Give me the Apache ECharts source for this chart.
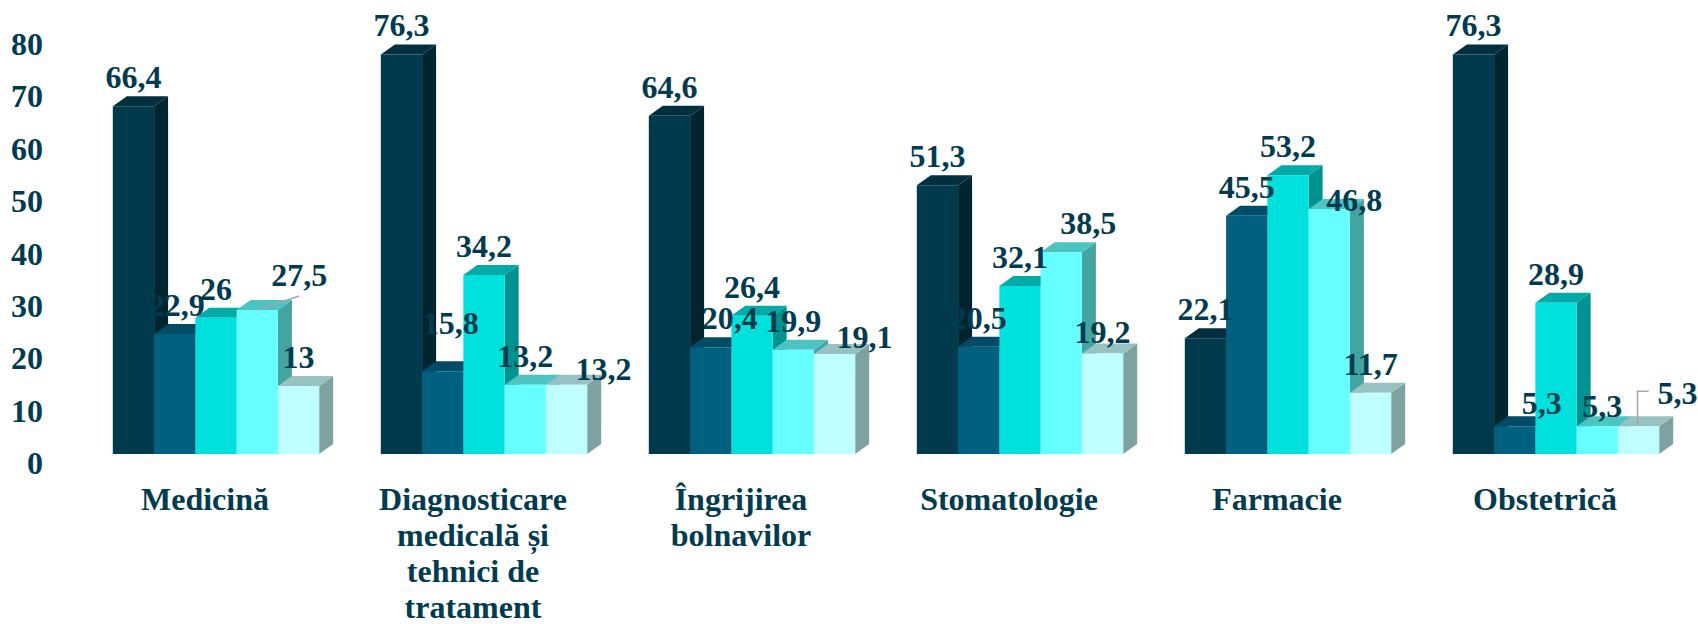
<!DOCTYPE html>
<html>
<head>
<meta charset="utf-8">
<script src="https://cdn.jsdelivr.net/npm/echarts@6/dist/echarts.min.js"></script>
<style>
html, body { margin: 0; padding: 0; background: #fff; }
#chart { width: 1698px; height: 624px; }
</style>
</head>
<body>
<div id="chart"></div>
<script>
const categories = ['Medicină', 'Diagnosticare\nmedicală și\ntehnici de\ntratament', 'Îngrijirea\nbolnavilor', 'Stomatologie', 'Farmacie', 'Obstetrică']
const serie1 = [66.4, 76.3, 64.6, 51.3, 22.1, 76.3]
const serie2 = [22.9, 15.8, 20.4, 20.5, 45.5, 5.3]
const serie3 = [26, 34.2, 26.4, 32.1, 53.2, 28.9]
const serie4 = [27.5, 13.2, 19.9, 38.5, 46.8, 5.3]
const serie5 = [13, 13.2, 19.1, 19.2, 11.7, 5.3]
const yTicks = [0, 80, 10]

const allSeries = [serie1, serie2, serie3, serie4, serie5]
const frontColors = ['#003a4c', '#006080', '#00e0dc', '#66ffff', '#bfffff']
const topColors = ['#00303f', '#004c66', '#00aaa6', '#4cc4c2', '#96c2c2']
const sideColors = ['#00252f', '#004a62', '#00928e', '#44a4a2', '#7ea2a2']
const textColor = '#003b4f'
const serif = '"Liberation Serif", "Times New Roman", serif'
const depthX = 14, depthY = 10
const groupRatio = 0.77

// manual nudges for labels that Excel moved away from the bar: "cat-serie": [dx, dy, leader]
const labelNudge = {
    '0-1': [2, 0], '0-3': [42, -6, 'slant'],
    '1-1': [8, -19], '1-4': [37, 13],
    '2-1': [19, 0], '2-4': [30, 12],
    '3-3': [27, 0], '3-4': [0, 8],
    '4-3': [25, 20],
    '5-1': [27, 6], '5-3': [5, 9], '5-4': [39, -4, 'elbow']
}

function barBox(api, k) {
    const cat = api.value(0)
    const base = api.coord([cat, 0])
    const top = api.coord([cat, api.value(1)])
    const band = api.size([1, 0])[0]
    const w = band * groupRatio / 5
    const x0 = base[0] - band * groupRatio / 2 + k * w
    return { x0: x0, w: w, y0: base[1], y1: top[1] }
}

function renderBar(k) {
    return function (params, api) {
        const b = barBox(api, k)
        const xr = b.x0 + b.w
        return {
            type: 'group',
            children: [
                { type: 'polygon', shape: { points: [[xr, b.y1], [xr + depthX, b.y1 - depthY], [xr + depthX, b.y0 - depthY], [xr, b.y0]] }, style: { fill: sideColors[k] } },
                { type: 'polygon', shape: { points: [[b.x0, b.y1], [b.x0 + depthX, b.y1 - depthY], [xr + depthX, b.y1 - depthY], [xr, b.y1]] }, style: { fill: topColors[k] } },
                { type: 'rect', shape: { x: b.x0, y: b.y1, width: b.w, height: b.y0 - b.y1 }, style: { fill: frontColors[k] } }
            ]
        }
    }
}

function renderLabel(k) {
    return function (params, api) {
        const b = barBox(api, k)
        const cx = b.x0 + b.w / 2
        const nudge = labelNudge[params.dataIndex + '-' + k] || [0, 0]
        const lx = cx + nudge[0]
        const ly = b.y1 - 29 + nudge[1]
        const children = [{
            type: 'text',
            style: {
                text: String(api.value(1)).replace('.', ','), x: lx, y: ly, align: 'center', verticalAlign: 'middle',
                fontFamily: serif, fontSize: 32, fontWeight: 'bold', fill: textColor
            }
        }]
        if (nudge[2] === 'slant') {
            children.push({ type: 'line', shape: { x1: cx, y1: b.y1, x2: lx, y2: ly + 21 }, style: { stroke: '#a6a6a6', lineWidth: 1.5 } })
        } else if (nudge[2] === 'elbow') {
            children.push({ type: 'polyline', shape: { points: [[cx - 1, b.y1], [cx - 1, ly - 2], [lx - 29, ly - 2]] }, style: { stroke: '#a6a6a6', lineWidth: 1.5, fill: null } })
        }
        return { type: 'group', children: children }
    }
}

const series = []
allSeries.forEach(function (values, k) {
    const data = values.map(function (v, i) { return [i, v] })
    series.push({ name: 'Seria ' + (k + 1), type: 'custom', renderItem: renderBar(k), data: data, encode: { x: 0, y: 1 }, z: 2, silent: true })
})
allSeries.forEach(function (values, k) {
    const data = values.map(function (v, i) { return [i, v] })
    series.push({ type: 'custom', renderItem: renderLabel(k), data: data, encode: { x: 0, y: 1 }, z: 5, silent: true })
})

const chart = echarts.init(document.getElementById('chart'), null, { renderer: 'svg' })
chart.setOption({
    backgroundColor: '#ffffff',
    animation: false,
    grid: { left: 82, right: 8, top: 35, bottom: 170, outerBoundsMode: 'none', containLabel: false },
    xAxis: {
        type: 'category',
        data: categories,
        axisLine: { show: false },
        axisTick: { show: false },
        axisLabel: { interval: 0, margin: 27, color: textColor, fontFamily: serif, fontWeight: 'bold', fontSize: 32, lineHeight: 36, padding: [0, 22, 0, 0] }
    },
    yAxis: {
        type: 'value',
        min: yTicks[0],
        max: yTicks[1],
        interval: yTicks[2],
        splitLine: { show: false },
        axisLine: { show: false },
        axisTick: { show: false },
        // labels sit a little below their tick, as in the original 3D wall
        axisLabel: { margin: 39, color: textColor, fontFamily: serif, fontWeight: 'bold', fontSize: 32, verticalAlign: 'top', lineHeight: 18 }
    },
    series: series
})
</script>
</body>
</html>
